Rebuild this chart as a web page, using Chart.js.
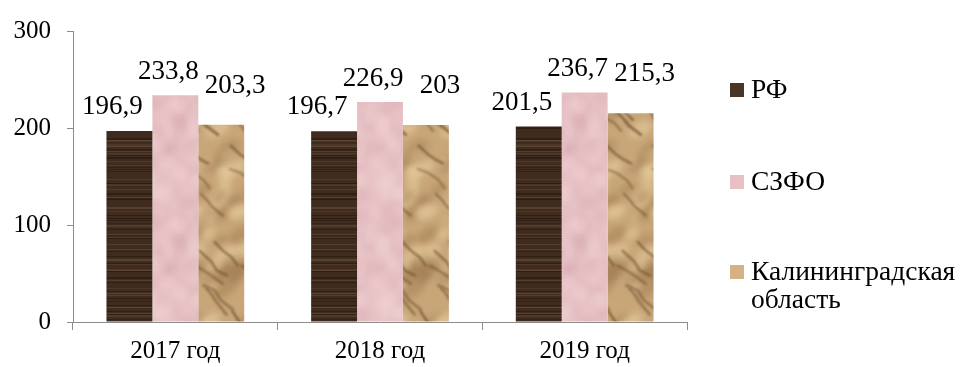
<!DOCTYPE html>
<html>
<head>
<meta charset="utf-8">
<script src="https://cdn.jsdelivr.net/npm/chart.js@4.4.1/dist/chart.umd.min.js"></script>
<style>
    html, body { margin: 0; padding: 0; background: #fff; }
    #wrap { width: 962px; height: 367px; position: relative; }
</style>
</head>
<body>
<div id="wrap"><canvas id="barChart"></canvas></div>
<script>
const years = ["2017 год", "2018 год", "2019 год"];
const seriesNames = ["РФ", "СЗФО", ["Калининградская", "область"]];
const rfValues = [196.9, 196.7, 201.5];
const szfoValues = [233.8, 226.9, 236.7];
const kalValues = [203.3, 203, 215.3];
const yTicks = [0, 100, 200, 300];

const SERIF = "'Liberation Serif'";

// small seeded generator so the textures come out the same every time
function seeded(seed) {
    return function () {
        seed |= 0; seed = seed + 0x6D2B79F5 | 0;
        let t = Math.imul(seed ^ seed >>> 15, 1 | seed);
        t = t + Math.imul(t ^ t >>> 7, 61 | t) ^ t;
        return ((t ^ t >>> 14) >>> 0) / 4294967296;
    };
}

function makeCanvas(w, h) {
    const c = document.createElement('canvas');
    c.width = w; c.height = h;
    return c;
}

// draws a shape at every wrapped offset so the tile repeats without seams
function wrapped(w, h, fn) {
    for (const dx of [-w, 0, w]) {
        for (const dy of [-h, 0, h]) fn(dx, dy);
    }
}

// dark wood with horizontal grain
function woodPattern(ctx) {
    const c = makeCanvas(60, 240);
    const g = c.getContext('2d');
    const rnd = seeded(11);
    g.fillStyle = '#402c1e';
    g.fillRect(0, 0, 60, 240);
    for (let y = 0; y < 240; y += 1) {
        const r = rnd();
        if (r > 0.8) {
            g.fillStyle = 'rgba(115, 92, 70, ' + (0.2 + rnd() * 0.35) + ')';
            g.fillRect(0, y, 60, 1 + (rnd() > 0.7 ? 1 : 0));
        } else if (r < 0.2) {
            g.fillStyle = 'rgba(30, 18, 10, ' + (0.3 + rnd() * 0.3) + ')';
            g.fillRect(0, y, 60, 1);
        }
    }
    return ctx.createPattern(c, 'repeat');
}

// soft pink marble
function pinkPattern(ctx) {
    const W = 80, H = 120;
    const c = makeCanvas(W, H);
    const g = c.getContext('2d');
    const rnd = seeded(5);
    g.fillStyle = '#e8c3c6';
    g.fillRect(0, 0, W, H);
    g.filter = 'blur(3px)';
    for (let i = 0; i < 70; i++) {
        const x = rnd() * W, y = rnd() * H, rad = 3 + rnd() * 8;
        g.fillStyle = rnd() > 0.5 ? 'rgba(244, 214, 215, 0.35)' : 'rgba(210, 165, 170, 0.25)';
        wrapped(W, H, (dx, dy) => {
            g.beginPath();
            g.arc(x + dx, y + dy, rad, 0, Math.PI * 2);
            g.fill();
        });
    }
    return ctx.createPattern(c, 'repeat');
}

// crumpled kraft paper: soft light/dark facets plus a few brown creases
function paperPattern(ctx) {
    const W = 47, H = 220;
    const c = makeCanvas(W, H);
    const g = c.getContext('2d');
    const rnd = seeded(23);
    g.fillStyle = '#c8a678';
    g.fillRect(0, 0, W, H);
    g.filter = 'blur(3px)';
    for (let i = 0; i < 45; i++) {
        const x = rnd() * W, y = rnd() * H, rad = 6 + rnd() * 10;
        const rot = -0.9 + rnd() * 0.6;
        g.fillStyle = rnd() > 0.45 ? 'rgba(232, 206, 160, 0.55)' : 'rgba(160, 122, 80, 0.45)';
        wrapped(W, H, (dx, dy) => {
            g.beginPath();
            g.ellipse(x + dx, y + dy, rad, rad * 0.55, rot, 0, Math.PI * 2);
            g.fill();
        });
    }
    g.filter = 'blur(1px)';
    g.lineCap = 'round';
    g.lineJoin = 'round';
    for (let i = 0; i < 11; i++) {
        const pts = [[rnd() * W, rnd() * H]];
        for (let k = 0; k < 3; k++) {
            const [px, py] = pts[pts.length - 1];
            pts.push([px + 4 + rnd() * 8, py + 4 + rnd() * 9]);
        }
        g.strokeStyle = 'rgba(105, 72, 40, ' + (0.45 + rnd() * 0.3) + ')';
        g.lineWidth = 1.5 + rnd() * 1.5;
        wrapped(W, H, (dx, dy) => {
            g.beginPath();
            pts.forEach(([px, py], k) => k ? g.lineTo(px + dx, py + dy) : g.moveTo(px + dx, py + dy));
            g.stroke();
        });
    }
    return ctx.createPattern(c, 'repeat');
}

const canvas = document.getElementById('barChart');
const ctx = canvas.getContext('2d');
const fills = [woodPattern(ctx), pinkPattern(ctx), paperPattern(ctx)];
const legendSwatches = ['#4a3627', '#e6c0c3', '#d4b285'];

// label offsets for each series: [dx, dy] from bar top centre
const labelShift = [[-17, -17], [-7, -16], [14, -32]];

const valueLabels = {
    id: 'valueLabels',
    afterDatasetsDraw(chart) {
        const c = chart.ctx;
        c.save();
        c.font = '27px ' + SERIF;
        c.fillStyle = '#000';
        c.textAlign = 'center';
        c.textBaseline = 'alphabetic';
        chart.data.datasets.forEach((ds, i) => {
            chart.getDatasetMeta(i).data.forEach((bar, j) => {
                const txt = String(ds.data[j]).replace('.', ',');
                c.fillText(txt, bar.x + labelShift[i][0], bar.y + labelShift[i][1]);
            });
        });
        c.restore();
    }
};

const sideLegend = {
    id: 'sideLegend',
    afterDraw(chart) {
        const c = chart.ctx;
        const rows = [98, 190, 280];
        c.save();
        c.font = '27.5px ' + SERIF;
        c.textBaseline = 'alphabetic';
        seriesNames.forEach((name, i) => {
            const y = rows[i];
            c.fillStyle = legendSwatches[i];
            c.fillRect(730, y - 15, 14, 14);
            c.fillStyle = '#000';
            const lines = Array.isArray(name) ? name : [name];
            lines.forEach((ln, k) => c.fillText(ln, 751, y + k * 28));
        });
        c.restore();
    }
};

function drawChart() {
    new Chart(canvas, {
        type: 'bar',
        data: {
            labels: years,
            datasets: [
                { label: 'РФ', data: rfValues, backgroundColor: fills[0] },
                { label: 'СЗФО', data: szfoValues, backgroundColor: fills[1] },
                { label: 'Калининградская область', data: kalValues, backgroundColor: fills[2] }
            ]
        },
        options: {
            responsive: true,
            maintainAspectRatio: false,
            animation: false,
            layout: { padding: { top: 27, right: 275, left: 0, bottom: 0 } },
            datasets: {
                bar: { categoryPercentage: 0.673, barPercentage: 1.0, borderWidth: 0 }
            },
            plugins: {
                legend: { display: false },
                tooltip: { enabled: false }
            },
            scales: {
                x: {
                    grid: { display: true, drawOnChartArea: false, color: '#8c8c8c', tickLength: 8, offset: true },
                    border: { color: '#8c8c8c', width: 1 },
                    ticks: {
                        color: '#000',
                        padding: 6,
                        font: { family: SERIF, size: 25 }
                    },
                    afterFit(scale) { scale.height = 45; }
                },
                y: {
                    min: 0,
                    max: 300,
                    afterBuildTicks(scale) { scale.ticks = yTicks.map(v => ({ value: v })); },
                    grid: { display: true, drawOnChartArea: false, color: '#8c8c8c', tickLength: 6 },
                    border: { color: '#8c8c8c', width: 1 },
                    ticks: {
                        color: '#000',
                        padding: 16,
                        font: { family: SERIF, size: 25 }
                    },
                    afterFit(scale) { scale.width = 73; }
                }
            }
        },
        plugins: [valueLabels, sideLegend]
    });
}

document.fonts.load("25px 'Liberation Serif'", "Калининградская 2017").then(drawChart, drawChart);
</script>
</body>
</html>
